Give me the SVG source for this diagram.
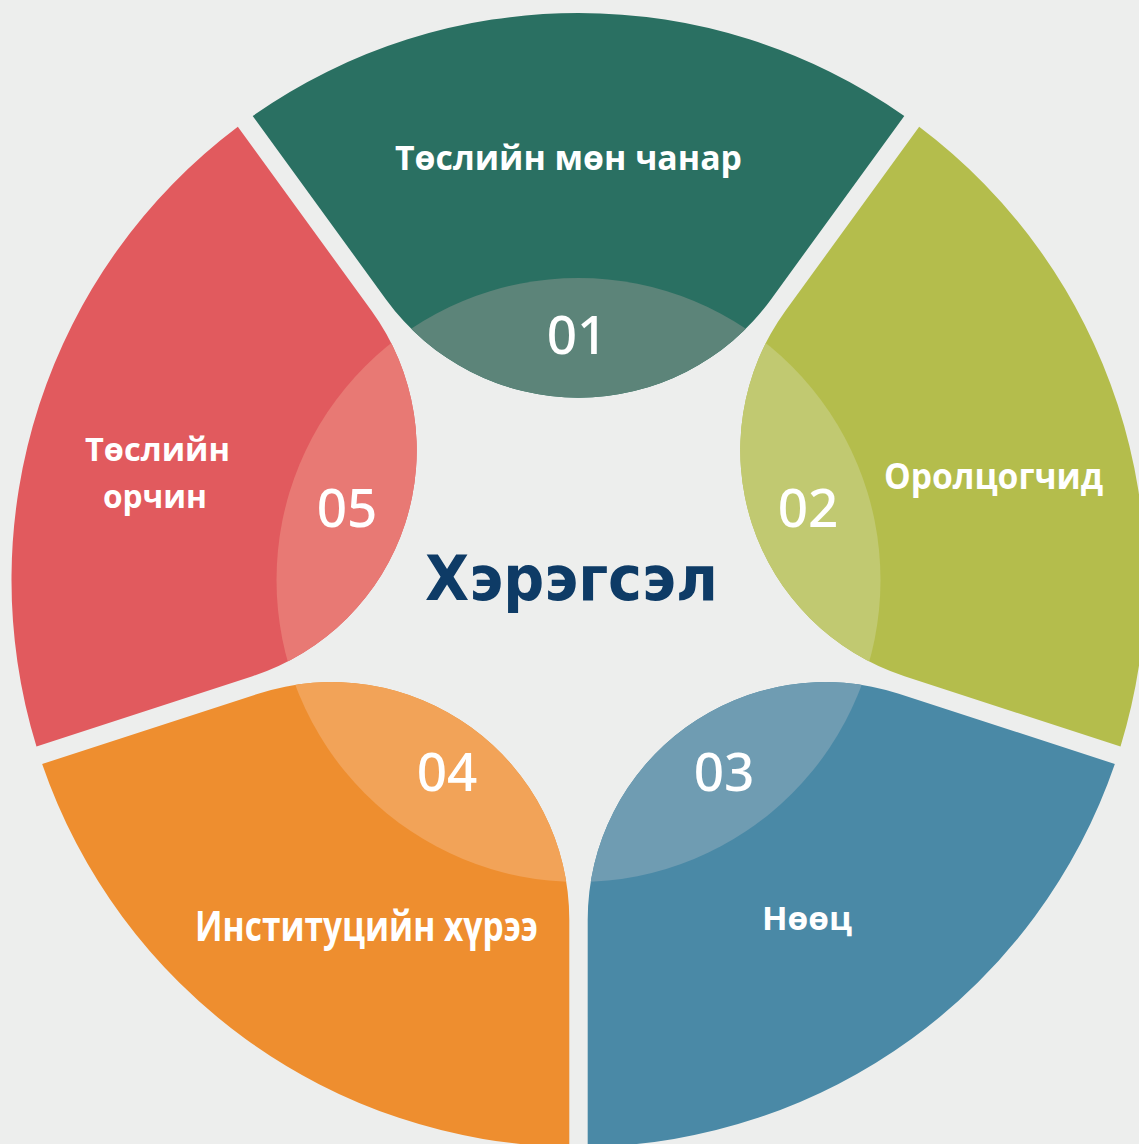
<svg xmlns="http://www.w3.org/2000/svg" width="1139" height="1144" viewBox="0 0 1139 1144">
<defs>
<style>
.lbl{font-family:"Open Sans","DejaVu Sans","Liberation Sans",sans-serif;font-weight:bold;fill:#ffffff;text-anchor:middle}
.num{font-family:"Noto Sans","Open Sans",sans-serif;font-weight:500;font-size:53px;fill:#ffffff;text-anchor:middle}
.title{font-family:"DejaVu Sans","Liberation Sans",sans-serif;font-weight:bold;fill:#0E3B66;text-anchor:middle;font-size:62px}
</style>
<path id="seg" d="M252.71,115.94 A567,567 0 0 1 904.29,115.94 L770.78,299.69 A237.67,237.67 0 0 1 386.22,299.69 Z"/>
<clipPath id="c1"><use href="#seg"/></clipPath>
<clipPath id="c2"><use href="#seg" transform="rotate(72 578.5 580)"/></clipPath>
<clipPath id="c3"><use href="#seg" transform="rotate(144 578.5 580)"/></clipPath>
<clipPath id="c4"><use href="#seg" transform="rotate(216 578.5 580)"/></clipPath>
<clipPath id="c5"><use href="#seg" transform="rotate(288 578.5 580)"/></clipPath>
</defs>
<rect width="1139" height="1144" fill="#EDEEED"/>
<g id="node-01">
<use href="#seg" fill="#2A7062"/>
<circle cx="578.5" cy="580" r="302" fill="#5C8479" clip-path="url(#c1)"/>
<text class="lbl" x="568.5" y="169.5" font-size="33.5" textLength="347" lengthAdjust="spacingAndGlyphs">Төслийн мөн чанар</text>
<text class="num" x="577" y="354">01</text>
</g>
<g id="node-02">
<use href="#seg" transform="rotate(72 578.5 580)" fill="#B4BD4C"/>
<circle cx="578.5" cy="580" r="302" fill="#C1C971" clip-path="url(#c2)"/>
<text class="lbl" x="993.5" y="489" font-size="36.5" textLength="219" lengthAdjust="spacingAndGlyphs">Оролцогчид</text>
<text class="num" x="808" y="527">02</text>
</g>
<g id="node-03">
<use href="#seg" transform="rotate(144 578.5 580)" fill="#4A89A6"/>
<circle cx="578.5" cy="580" r="302" fill="#6F9CB2" clip-path="url(#c3)"/>
<text class="lbl" x="807" y="929.5" font-size="32" textLength="90" lengthAdjust="spacingAndGlyphs">Нөөц</text>
<text class="num" x="724" y="791">03</text>
</g>
<g id="node-04">
<use href="#seg" transform="rotate(216 578.5 580)" fill="#EE8E2F"/>
<circle cx="578.5" cy="580" r="302" fill="#F2A358" clip-path="url(#c4)"/>
<text class="lbl" x="366.5" y="941" font-size="42" textLength="343" lengthAdjust="spacingAndGlyphs">Институцийн хүрээ</text>
<text class="num" x="447" y="791">04</text>
</g>
<g id="node-05">
<use href="#seg" transform="rotate(288 578.5 580)" fill="#E15A5E"/>
<circle cx="578.5" cy="580" r="302" fill="#E87974" clip-path="url(#c5)"/>
<text class="lbl" font-size="32"><tspan x="157.5" y="461" textLength="145" lengthAdjust="spacingAndGlyphs">Төслийн</tspan><tspan x="155" y="507.5" textLength="104" lengthAdjust="spacingAndGlyphs">орчин</tspan></text>
<text class="num" x="347" y="527">05</text>
</g>
<g id="node-center">
<text class="title" x="571.5" y="600" textLength="293" lengthAdjust="spacingAndGlyphs">Хэрэгсэл</text>
</g>
<g id="connectors"></g>
</svg>
